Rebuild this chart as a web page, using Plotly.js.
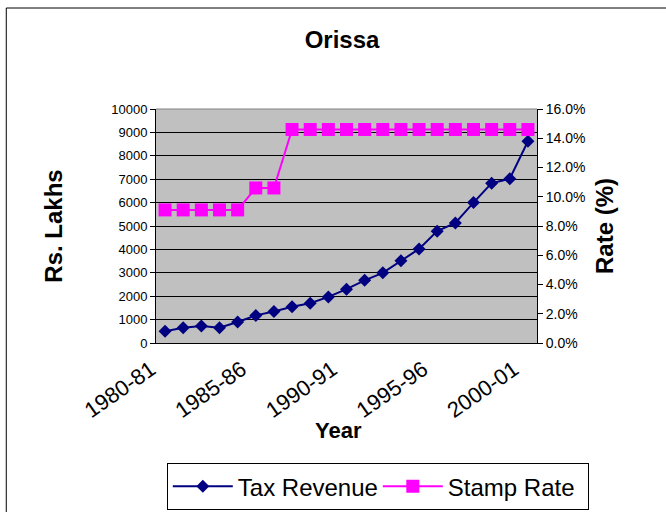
<!DOCTYPE html>
<html><head><meta charset="utf-8">
<script src="https://cdn.plot.ly/plotly-3.0.1.min.js"></script>
<style>html,body{margin:0;padding:0;background:#fff;} #chart{width:666px;height:512px;}</style>
</head><body><div id="chart"></div>
<script>
const years = ['1980-81','1981-82','1982-83','1983-84','1984-85','1985-86','1986-87','1987-88','1988-89','1989-90','1990-91','1991-92','1992-93','1993-94','1994-95','1995-96','1996-97','1997-98','1998-99','1999-00','2000-01'];
const taxRevenue = [500, 650, 730, 650, 900, 1180, 1350, 1550, 1700, 1970, 2300, 2680, 3000, 3520, 4020, 4780, 5130, 6000, 6830, 7020, 8620];
const stampRate = [9.1, 9.1, 9.1, 9.1, 9.1, 10.6, 10.6, 14.6, 14.6, 14.6, 14.6, 14.6, 14.6, 14.6, 14.6, 14.6, 14.6, 14.6, 14.6, 14.6, 14.6];
const labelYears = ['1980-81','1985-86','1990-91','1995-96','2000-01'];

const FONT = 'Liberation Sans, Arial, sans-serif';

const traces = [
  {x: years, y: taxRevenue, name: 'Tax Revenue', type: 'scatter', mode: 'lines+markers',
   line: {color: '#000080', width: 2}, marker: {symbol: 'diamond', size: 10, color: '#000080'},
   xaxis: 'x', yaxis: 'y'},
  {x: years, y: stampRate, name: 'Stamp Rate', type: 'scatter', mode: 'lines+markers',
   line: {color: '#FF00FF', width: 2}, marker: {symbol: 'square', size: 13, color: '#FF00FF'},
   xaxis: 'x', yaxis: 'y2'}
];

const layout = {
  width: 666, height: 512,
  margin: {l: 156, r: 129, t: 109, b: 169, autoexpand: false},
  paper_bgcolor: '#ffffff', plot_bgcolor: '#C0C0C0',
  font: {family: FONT, color: '#000'},
  showlegend: true,
  title: {text: '<b>Orissa</b>', font: {size: 24, family: FONT, color: '#000'},
          xref: 'container', x: 0.5135, y: 0.922, yref: 'container', yanchor: 'middle', xanchor: 'center'},
  xaxis: {type: 'category', categoryorder: 'array', categoryarray: years, range: [-0.5, 20.5],
          tickmode: 'array', tickvals: labelYears, ticktext: labelYears, ticks: '', tickangle: -35,
          ticklabelstandoff: 4, ticklabelshift: -14,
          tickfont: {size: 22, family: FONT}, showline: true, linecolor: '#000', linewidth: 1,
          showgrid: false, zeroline: false},
  xaxis2: {overlaying: 'x', anchor: 'y', side: 'bottom', type: 'linear', range: [-0.5, 20.5],
           tickmode: 'linear', tick0: -0.5, dtick: 1, ticks: 'outside', ticklen: 5, tickcolor: '#000',
           showticklabels: false, showgrid: false, zeroline: false, showline: false},
  yaxis: {range: [0, 10000], tickmode: 'linear', tick0: 0, dtick: 1000, tickformat: 'd',
          showgrid: true, gridcolor: '#000', gridwidth: 1,
          ticks: 'outside', ticklen: 5, tickcolor: '#000', showline: true, linecolor: '#000', linewidth: 1,
          zeroline: false, tickfont: {size: 13, family: FONT},
          title: {text: '<b>Rs. Lakhs</b>', font: {size: 24, family: FONT}, standoff: 41}},
  yaxis2: {overlaying: 'y', side: 'right', anchor: 'x', range: [0, 16], tickmode: 'linear', tick0: 0, dtick: 2,
           tickformat: '.1f', ticksuffix: '%', showgrid: false, zeroline: false,
           ticks: 'outside', ticklen: 5, tickcolor: '#000', showline: true, linecolor: '#000', linewidth: 1,
           tickfont: {size: 14, family: FONT},
           title: {text: '<b>Rate (%)</b>', font: {size: 24, family: FONT}, standoff: 11}},
  legend: {orientation: 'h', xref: 'paper', yref: 'paper', x: 1.136, xanchor: 'right', y: -0.513, yanchor: 'top',
           itemwidth: 60, entrywidth: 135,
           bordercolor: '#000', borderwidth: 1, bgcolor: '#fff', font: {size: 24, family: FONT}},
  annotations: [
    {text: '<b>Year</b>', xref: 'paper', yref: 'paper', x: 0.478, y: -0.372, xanchor: 'center', yanchor: 'middle',
     showarrow: false, font: {size: 22, family: FONT, color: '#000'}}
  ],
  shapes: [
    {type: 'rect', xref: 'paper', yref: 'paper', x0: -0.393, x1: 2, y0: -2, y1: 1.4316,
     line: {color: '#000', width: 1}, fillcolor: 'rgba(0,0,0,0)', layer: 'above'},
    {type: 'line', xref: 'paper', yref: 'paper', x0: 0, x1: 1, y0: 1, y1: 1,
     line: {color: '#808080', width: 1}, layer: 'above'}
  ]
};

Plotly.newPlot('chart', traces, layout, {displayModeBar: false, staticPlot: true});
</script>
</body></html>
